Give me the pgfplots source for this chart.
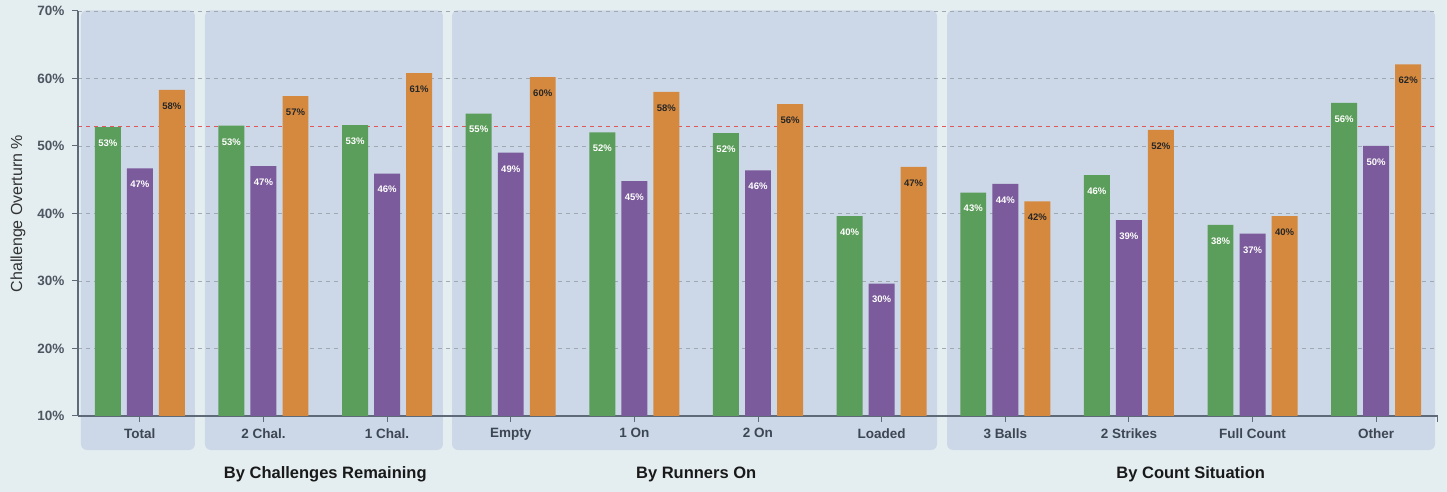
\documentclass[border=0pt]{standalone}
\usepackage{pgfplots}
\pgfplotsset{compat=1.18}
\usepackage{pgfplotstable}
\usepackage{fontspec}
\setmainfont{Liberation Sans}

\definecolor{pagebg}{HTML}{E4EEF1}
\definecolor{panelbg}{HTML}{CCD8E7}
\definecolor{cgreen}{HTML}{5B9D5A}
\definecolor{cpurple}{HTML}{7B5B9B}
\definecolor{corange}{HTML}{D4893F}
\definecolor{gridgray}{HTML}{A0A8B2}
\definecolor{refred}{HTML}{E0565B}
\definecolor{axisgray}{HTML}{5E6A78}
\definecolor{ticktext}{HTML}{3D4653}
\definecolor{ytext}{HTML}{4D5661}

% x = category index, g/p/o = the three series (overturn %)
\pgfplotstableread{
x  g    p    o
0  52.8 46.7 58.3
1  53.0 47.0 57.4
2  53.1 45.9 60.8
3  54.8 49.0 60.2
4  52.0 44.8 58.0
5  51.9 46.4 56.2
6  39.6 29.6 46.9
7  43.1 44.4 41.8
8  45.7 39.0 52.4
9  38.3 37.0 39.6
10 56.4 50.0 62.1
}\overturn

\begin{document}
\begin{tikzpicture}
\begin{axis}[
  set layers,
  scale only axis, width=1360pt, height=405pt,
  xmin=-0.5, xmax=10.5, ymin=10, ymax=70,
  clip mode=individual,
  axis lines*=left,
  axis line style={draw=axisgray, line width=1.2pt},
  xtick={0,...,10},
  xticklabels={Total, 2 Chal., 1 Chal., Empty, 1 On, 2 On, Loaded, 3 Balls, 2 Strikes, Full Count, Other},
  ytick={10,20,...,70},
  yticklabels={10\%,20\%,30\%,40\%,50\%,60\%,70\%},
  tick align=outside, major tick length=6pt,
  tick style={draw=axisgray, line width=1pt},
  ymajorgrids,
  grid style={gridgray, line width=0.8pt, dash pattern=on 4pt off 4pt},
  tick label style={font=\fontsize{13.5}{16}\selectfont\bfseries},
  xticklabel style={text=ticktext, yshift=-3pt},
  yticklabel style={text=ytext, xshift=-4pt},
  ybar, bar width=0.21,
  nodes near coords={\pgfmathprintnumber[fixed,precision=0,assume math mode=true]{\pgfplotspointmeta}\%},
  every node near coord/.append style={anchor=center, yshift=-16pt,
    font=\fontsize{9.5}{10}\selectfont\bfseries},
]
% page background and group panels
\begin{pgfonlayer}{axis background}
\fill[pagebg] (axis cs:-1.131,-1.26) rectangle (axis cs:10.573,71.63);
\fill[panelbg, rounded corners=6pt] (axis cs:-0.476,4.96) rectangle (axis cs:0.446,70.1);
\fill[panelbg, rounded corners=6pt] (axis cs:0.527,4.96) rectangle (axis cs:2.452,70.1);
\fill[panelbg, rounded corners=6pt] (axis cs:2.525,4.96) rectangle (axis cs:6.448,70.1);
\fill[panelbg, rounded corners=6pt] (axis cs:6.529,4.96) rectangle (axis cs:10.476,70.1);
\end{pgfonlayer}

% average line
\begin{pgfonlayer}{axis grid}
\draw[refred, line width=1pt, dash pattern=on 4pt off 4pt] (axis cs:-0.5,52.86) -- (axis cs:10.5,52.86);
\end{pgfonlayer}

\addplot[fill=cgreen, draw=none, bar shift=-0.259,
  every node near coord/.append style={text=white}] table[x=x, y=g] {\overturn};
\addplot[fill=cpurple, draw=none, bar shift=0,
  every node near coord/.append style={text=white}] table[x=x, y=p] {\overturn};
\addplot[fill=corange, draw=none, bar shift=0.259,
  every node near coord/.append style={text=black!85}] table[x=x, y=o] {\overturn};

\draw[axisgray, line width=1pt] (axis cs:10.5,10) -- ++(0pt,-6pt);

\node[rotate=90, font=\fontsize{16}{19}\selectfont, text=black!80] at (axis cs:-0.985,40) {Challenge Overturn \%};

\node[font=\fontsize{16.5}{20}\selectfont\bfseries, text=black!90] at (axis cs:1.5,1.3) {By Challenges Remaining};
\node[font=\fontsize{16.5}{20}\selectfont\bfseries, text=black!90] at (axis cs:4.5,1.3) {By Runners On};
\node[font=\fontsize{16.5}{20}\selectfont\bfseries, text=black!90] at (axis cs:8.5,1.3) {By Count Situation};
\end{axis}
\end{tikzpicture}
\end{document}
